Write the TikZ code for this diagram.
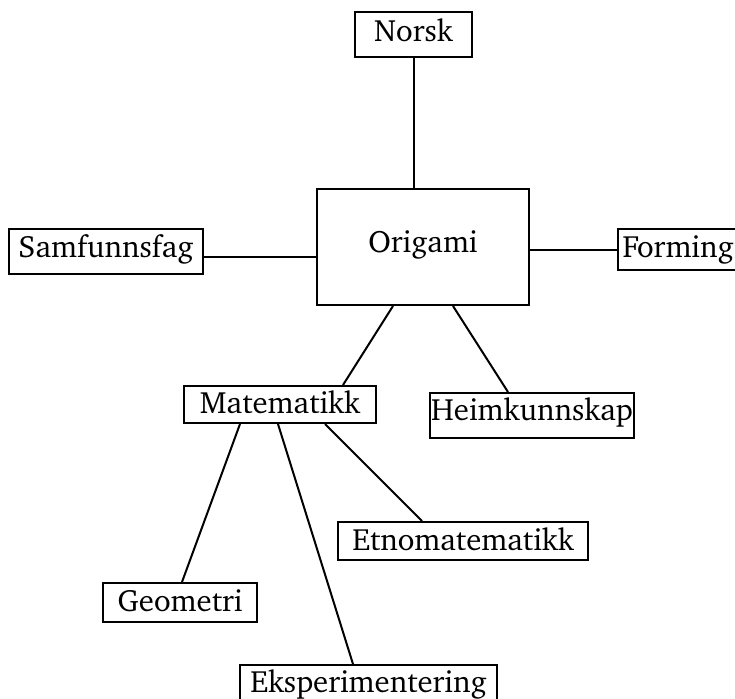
\documentclass[tikz,border=0pt]{standalone}
\usepackage[T1]{fontenc}
\usepackage{charter}
\usepackage{tikz}
\usetikzlibrary{calc}

\begin{document}
\begin{tikzpicture}[x=0.5pt, y=-0.5pt, line width=1pt,
  fag/.style={draw, inner sep=0pt, text height=10.5pt, text depth=4pt,
    font=\fontsize{15.4}{18}\selectfont}]
  \useasboundingbox (0,0) rectangle (735,698);

  % the boxes
  \node[fag, minimum width=58.5pt, minimum height=22.5pt] (norsk) at (413.5,34.5) {Norsk};
  \node[fag, minimum width=106pt, minimum height=58pt, text depth=5.5pt] (origami) at (423,247) {Origami};
  \node[fag, minimum width=97pt, minimum height=22.5pt, text depth=5pt] (samf) at (106,251.5) {Samfunnsfag};
  \node[fag, anchor=west, inner xsep=2.3pt, minimum height=20.5pt, text depth=3pt] (forming) at (617,249.5) {Forming};
  \node[fag, minimum width=96pt, minimum height=18.5pt, text depth=2pt] (mat) at (280,404.5) {Matematikk};
  \node[fag, minimum width=102pt, minimum height=22.5pt, text depth=6pt] (heim) at (532,415.5) {Heimkunnskap};
  \node[fag, minimum width=125pt, minimum height=19pt, text depth=1.5pt] (etno) at (463,541) {Etnomatematikk};
  \node[fag, minimum width=77pt, minimum height=19.5pt, text depth=2pt] (geo) at (180,602.5) {Geometri};
  \node[fag, minimum width=128.5pt, minimum height=19pt, text depth=2.5pt] (eksp) at (368.5,684) {Eksperimentering};

  % the lines
  \draw (norsk.south) -- (norsk.south |- origami.north);
  \draw ($(samf.east)+(0,5.5)$) -- ($(samf.east -| origami.west)+(0,5.5)$);
  \draw (origami.east |- forming.west) -- (forming.west);
  \draw ($(origami.south)+(-30,0)$) -- ($(mat.north)+(63,0)$);
  \draw ($(origami.south)+(30,0)$) -- ($(heim.north)+(-24,0)$);
  \draw ($(mat.south)+(-40,0)$) -- ($(geo.north)+(2,0)$);
  \draw ($(mat.south)+(-2,0)$) -- ($(eksp.north)+(-15.5,0)$);
  \draw ($(mat.south)+(45,0)$) -- ($(etno.north)+(-41,0)$);
\end{tikzpicture}
\end{document}
